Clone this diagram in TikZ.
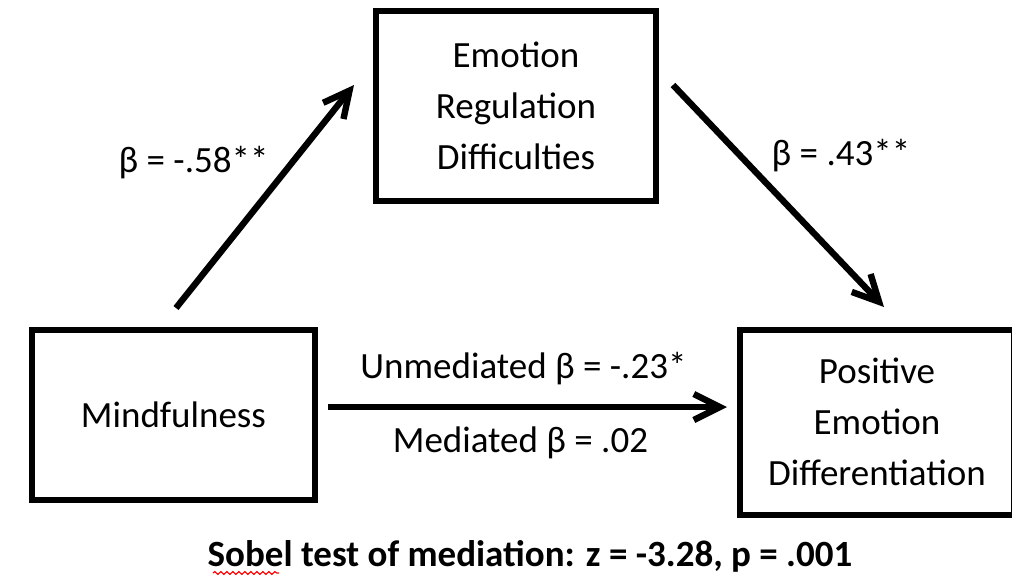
\documentclass[tikz,border=0pt]{standalone}
\usepackage{fontspec}
\setmainfont{Carlito}
\usepackage{tikz}
\usetikzlibrary{positioning}
\usetikzlibrary{arrows.meta}
\usetikzlibrary{decorations.pathmorphing}

\begin{document}
\begin{tikzpicture}[x=0.5pt,y=-0.5pt,
	-{Straight Barb[length=13pt,width=13pt]},line width=3.2pt,
	font=\fontsize{18.5}{25.5}\selectfont,
	var node/.style={draw,rectangle,line width=3pt,align=center,inner sep=0pt},
	coef/.style={inner sep=0pt}]
	
	\useasboundingbox (0,0) rectangle (1012,578);
	
	\node[var node, minimum width=141.5pt, minimum height=85pt] (mind) at (173.5,415) {Mindfulness};
	\node[var node, minimum width=140pt, minimum height=95pt] (erd) at (516,106) {Emotion\\Regulation\\Difficulties};
	\node[var node, minimum width=137pt, minimum height=92.5pt] (ped) at (877,422) {Positive\\Emotion\\Differentiation};
	
	% free ends of the paths
	\coordinate (m1) at (176,308);
	\coordinate (e1) at (354,85);
	\coordinate (e2) at (673,85);
	\coordinate (p1) at (884,307);
	\coordinate (m2) at (328,407);
	\coordinate (p2) at (727,407);
	
	\draw (m1) -- node[coef,pos=0.65,left=10pt] {β = -.58**} (e1);
	\draw (e2) -- node[coef,pos=0.32,right=14pt] {β = .43**} (p1);
	\draw (m2) -- node[coef,midway,yshift=19pt,xshift=-2pt] {Unmediated β = -.23*}
	node[coef,midway,yshift=-18pt,xshift=-3.5pt] {Mediated β = .02} (p2);
	
	\node[coef,font={\fontsize{18.5}{22}\selectfont\bfseries}] (sobel) at (530,556) {Sobel test of mediation: z = -3.28, p = .001};
	\draw[-,red,line width=0.6pt,decorate,decoration={snake,amplitude=0.7pt,segment length=3pt}] (213,573) -- (279,573);
\end{tikzpicture}
\end{document}
